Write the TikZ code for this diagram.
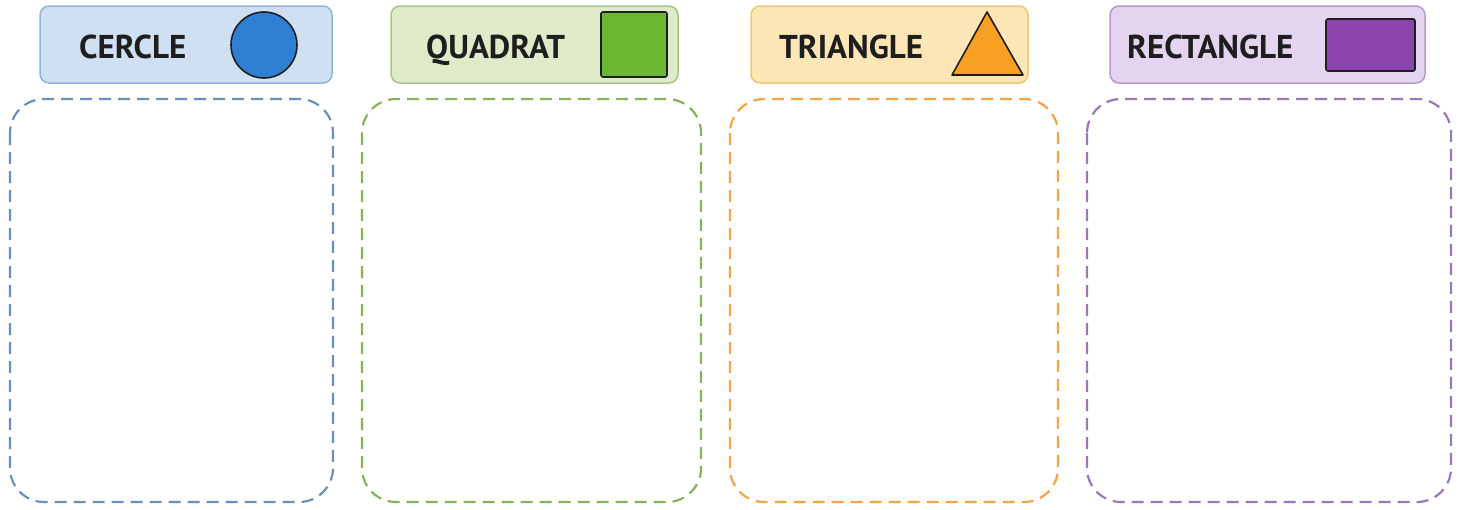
\documentclass[tikz,border=0pt]{standalone}
\usepackage{fontspec}
\setmainfont{PT Sans}
\definecolor{bFill}{HTML}{CFE0F3}\definecolor{bLine}{HTML}{8FB4DD}\definecolor{bShape}{HTML}{2F7FD4}\definecolor{bDash}{HTML}{6890BE}
\definecolor{gFill}{HTML}{DEEAC8}\definecolor{gLine}{HTML}{A8C77E}\definecolor{gShape}{HTML}{6AB832}\definecolor{gDash}{HTML}{86B354}
\definecolor{oFill}{HTML}{FDE6B6}\definecolor{oLine}{HTML}{F4C472}\definecolor{oShape}{HTML}{F7A021}\definecolor{oDash}{HTML}{F2A446}
\definecolor{pFill}{HTML}{E4D4F0}\definecolor{pLine}{HTML}{B797D0}\definecolor{pShape}{HTML}{8E44AD}\definecolor{pDash}{HTML}{9A76BA}
\definecolor{ink}{HTML}{1E1E1E}
\tikzset{
  header/.style={draw=#1, line width=1.5pt, rounded corners=9pt},
  sortbox/.style={draw=#1, line width=2.2pt, dash pattern=on 12pt off 7pt, rounded corners=34pt},
  label/.style={font=\fontsize{33}{33}\selectfont\bfseries, text=ink, anchor=base west, inner sep=0pt},
  shapeline/.style={draw=ink, line width=1.6pt}
}
\begin{document}
\begin{tikzpicture}[x=1pt,y=-1pt]
\useasboundingbox (0,0) rectangle (1461,509);
% headers
\draw[header=bLine, fill=bFill] (40,6) rectangle (332,83);
\node[label] (t1) at (79,58) {CERCLE};
\draw[shapeline, fill=bShape] (264,45) circle (33);
\draw[header=gLine, fill=gFill] (391,6) rectangle (678,83);
\node[label] (t2) at (426,58) {QUADRAT};
\draw[shapeline, fill=gShape, rounded corners=2pt] (601,12) rectangle (667,77);
\draw[header=oLine, fill=oFill] (751,6) rectangle (1028,83);
\node[label] (t3) at (779,58) {TRIANGLE};
\draw[shapeline, fill=oShape, line join=round] (987,12) -- (1023,75) -- (952,75) -- cycle;
\draw[header=pLine, fill=pFill] (1110,6) rectangle (1425,83);
\node[label] (t4) at (1127,58) {RECTANGLE};
\draw[shapeline, fill=pShape, rounded corners=2pt] (1326,19) rectangle (1415,71);
% sorting boxes
\draw[sortbox=bDash] (10,99) rectangle (333,502);
\draw[sortbox=gDash] (362,99) rectangle (701,502);
\draw[sortbox=oDash] (730,99) rectangle (1058,502);
\draw[sortbox=pDash] (1087,99) rectangle (1451,502);
\end{tikzpicture}
\end{document}
